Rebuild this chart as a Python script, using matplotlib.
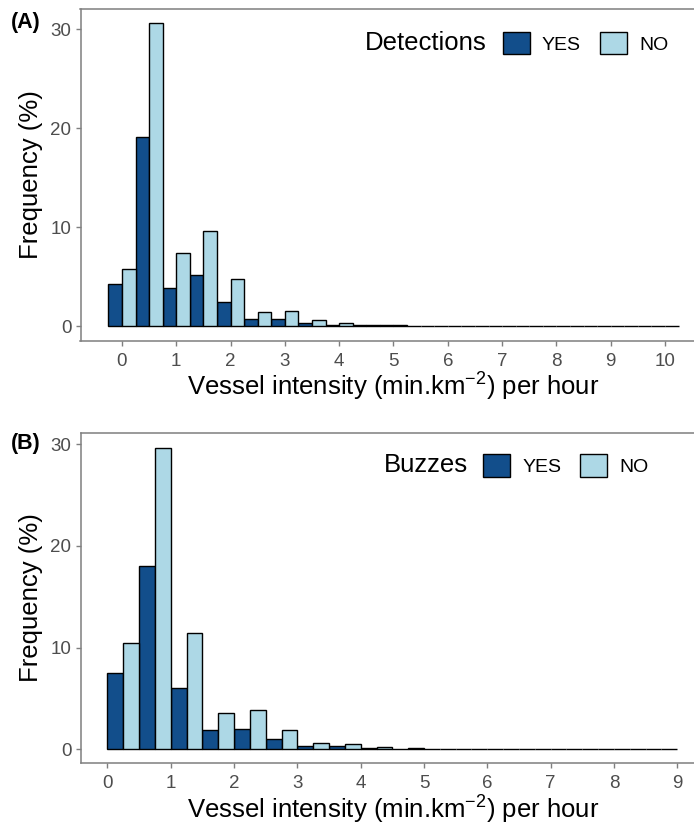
import numpy as np
import matplotlib
matplotlib.use("Agg")
import matplotlib.pyplot as plt
from matplotlib.patches import Patch

plt.rcParams['font.family'] = ['Liberation Sans', 'DejaVu Sans']
plt.rcParams['mathtext.fontset'] = 'custom'
plt.rcParams['mathtext.rm'] = 'Liberation Sans'
plt.rcParams['mathtext.it'] = 'Liberation Sans:italic'
plt.rcParams['mathtext.bf'] = 'Liberation Sans:bold'

# ---------------- data ----------------
# Panel A: bins of width 0.5 centred on 0, 0.5, ..., 10
bins_a = [i * 0.5 for i in range(21)]
det_yes = [4.2, 19.1, 3.85, 5.2, 2.4, 0.7, 0.7, 0.28, 0.15, 0.1, 0.06, 0.05,
           0.04, 0.0, 0.0, 0.0, 0.0, 0.0, 0.0, 0.0, 0.0]
det_no = [5.8, 30.6, 7.4, 9.6, 4.8, 1.45, 1.55, 0.62, 0.35, 0.1, 0.07, 0.05,
          0.04, 0.0, 0.0, 0.0, 0.0, 0.0, 0.0, 0.0, 0.0]
xticks_a = list(range(0, 11))

# Panel B: bins of width 0.5 starting at 0 ([0,0.5], ..., [8.5,9])
bins_b = [0.25 + i * 0.5 for i in range(18)]
buz_yes = [7.5, 18.05, 6.05, 1.87, 2.0, 1.0, 0.32, 0.3, 0.12, 0.05, 0.05, 0.03,
           0.02, 0.02, 0.02, 0.01, 0.0, 0.0]
buz_no = [10.5, 29.6, 11.4, 3.54, 3.87, 1.9, 0.63, 0.52, 0.27, 0.08, 0.05, 0.05,
          0.03, 0.03, 0.03, 0.02, 0.01, 0.01]
xticks_b = list(range(0, 10))
yticks = [0, 10, 20, 30]

labels = ["YES", "NO"]
col_yes = "#124E8B"
col_no = "#ADD8E6"
grey = "#7F7F7F"
tick_grey = "#4D4D4D"

W, H = 694, 834
fig = plt.figure(figsize=(W / 100, H / 100), dpi=100)


def fx(px):
    return px / W


def fy(py):
    return 1 - py / H


def make_panel(top, bottom, xlim, ylim, centers, yes, no, xticks,
               tag, tag_y, legend_title, title_right, box1, leg_y, xlab_y):
    ax = fig.add_axes([fx(80.5), fy(bottom), 1 - fx(80.5), fy(top) - fy(bottom)])
    c = np.array(centers)
    ax.bar(c - 0.125, yes, width=0.25, color=col_yes, edgecolor="black",
           linewidth=1.0, zorder=3)
    ax.bar(c + 0.125, no, width=0.25, color=col_no, edgecolor="black",
           linewidth=1.0, zorder=3)
    ax.set_xlim(*xlim)
    ax.set_ylim(*ylim)
    ax.set_xticks(xticks)
    ax.set_yticks(yticks)
    for s in ["left", "bottom", "top"]:
        ax.spines[s].set_color(grey)
        ax.spines[s].set_linewidth(1.1)
    ax.spines["right"].set_visible(False)
    ax.tick_params(axis="both", colors=grey, labelcolor=tick_grey,
                   labelsize=13.5, length=3.5, width=1.0)
    ax.tick_params(axis="x", pad=5)
    ax.tick_params(axis="y", pad=3)
    fig.text(fx(31), fy((top + bottom) / 2), "Frequency (%)", rotation=90,
             fontsize=18.5, ha="center", va="center")
    fig.text(fx(393), fy(xlab_y),
             r"Vessel intensity (min.km$^{-2}$) per hour",
             fontsize=18.5, ha="center", va="center")
    fig.text(fx(11), fy(tag_y), tag, fontsize=15.5, fontweight="bold",
             ha="left", va="center")
    # legend (title at left, horizontal keys)
    fig.text(fx(title_right), fy(leg_y), legend_title, fontsize=18.5,
             ha="right", va="center")
    handles = [Patch(facecolor=col_yes, edgecolor="black", linewidth=1.0),
               Patch(facecolor=col_no, edgecolor="black", linewidth=1.0)]
    fig.legend(handles, labels, ncol=2, frameon=False, fontsize=14,
               loc="center left", bbox_to_anchor=(fx(box1), fy(leg_y)),
               borderpad=0, borderaxespad=0, handlelength=1.39,
               handleheight=1.39, handletextpad=0.62, columnspacing=0.98)
    return ax


make_panel(9.3, 340.7, (-0.764, 10.534), (-1.48, 32.0), bins_a, det_yes,
           det_no, xticks_a, "(A)", 22.5, "Detections", 487, 502.7, 43.3, 387)
make_panel(432.7, 763.3, (-0.4265, 9.265), (-1.38, 31.14), bins_b, buz_yes,
           buz_no, xticks_b, "(B)", 444, "Buzzes", 468, 483.3, 465.5, 810)

fig.savefig("out.png", dpi=100)
